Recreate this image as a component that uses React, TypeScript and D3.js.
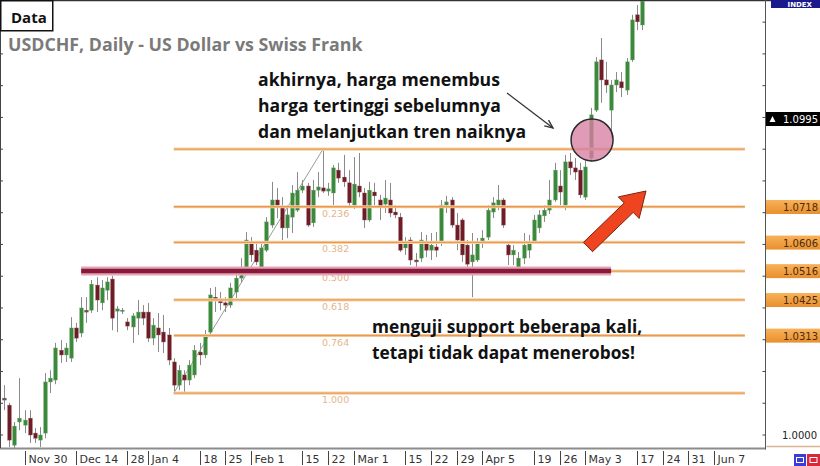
import React from 'react';
import * as d3 from 'd3';

const W = 820;
const H = 466;

// Daily candles [open, high, low, close]
const candles: [number, number, number, number][] = [
  [1.0116, 1.0157, 1.0078, 1.0110],
  [1.0094, 1.0101, 0.9962, 0.9984],
  [0.9968, 1.0041, 0.9952, 1.0028],
  [1.0041, 1.0179, 1.0015, 1.0053],
  [1.0031, 1.0078, 1.0006, 1.0047],
  [1.0053, 1.0078, 0.9975, 1.0000],
  [1.0006, 1.0022, 0.9975, 0.9990],
  [0.9984, 1.0025, 0.9962, 1.0000],
  [1.0006, 1.0195, 0.9990, 1.0167],
  [1.0167, 1.0204, 1.0132, 1.0179],
  [1.0173, 1.0290, 1.0160, 1.0274],
  [1.0267, 1.0299, 1.0227, 1.0252],
  [1.0252, 1.0290, 1.0230, 1.0274],
  [1.0242, 1.0371, 1.0230, 1.0337],
  [1.0337, 1.0353, 1.0293, 1.0305],
  [1.0321, 1.0434, 1.0308, 1.0400],
  [1.0393, 1.0434, 1.0353, 1.0387],
  [1.0393, 1.0488, 1.0384, 1.0475],
  [1.0472, 1.0497, 1.0387, 1.0425],
  [1.0416, 1.0488, 1.0393, 1.0463],
  [1.0456, 1.0497, 1.0425, 1.0482],
  [1.0491, 1.0501, 1.0330, 1.0368],
  [1.0390, 1.0406, 1.0324, 1.0397],
  [1.0390, 1.0400, 1.0381, 1.0393],
  [1.0356, 1.0368, 1.0330, 1.0343],
  [1.0340, 1.0384, 1.0290, 1.0375],
  [1.0368, 1.0425, 1.0315, 1.0387],
  [1.0387, 1.0409, 1.0346, 1.0368],
  [1.0387, 1.0416, 1.0293, 1.0305],
  [1.0305, 1.0368, 1.0283, 1.0346],
  [1.0337, 1.0384, 1.0261, 1.0315],
  [1.0324, 1.0378, 1.0258, 1.0293],
  [1.0315, 1.0337, 1.0220, 1.0236],
  [1.0230, 1.0242, 1.0132, 1.0157],
  [1.0157, 1.0220, 1.0141, 1.0204],
  [1.0189, 1.0204, 1.0135, 1.0173],
  [1.0173, 1.0236, 1.0157, 1.0220],
  [1.0189, 1.0283, 1.0179, 1.0267],
  [1.0261, 1.0290, 1.0220, 1.0252],
  [1.0252, 1.0330, 1.0242, 1.0315],
  [1.0324, 1.0463, 1.0315, 1.0441],
  [1.0434, 1.0466, 1.0387, 1.0425],
  [1.0425, 1.0450, 1.0393, 1.0416],
  [1.0416, 1.0434, 1.0387, 1.0409],
  [1.0409, 1.0479, 1.0400, 1.0463],
  [1.0450, 1.0513, 1.0431, 1.0494],
  [1.0494, 1.0557, 1.0482, 1.0519],
  [1.0526, 1.0639, 1.0513, 1.0614],
  [1.0608, 1.0623, 1.0545, 1.0567],
  [1.0582, 1.0608, 1.0535, 1.0545],
  [1.0526, 1.0605, 1.0510, 1.0589],
  [1.0582, 1.0686, 1.0576, 1.0671],
  [1.0661, 1.0797, 1.0652, 1.0740],
  [1.0740, 1.0778, 1.0683, 1.0724],
  [1.0718, 1.0749, 1.0614, 1.0652],
  [1.0652, 1.0724, 1.0620, 1.0693],
  [1.0686, 1.0787, 1.0636, 1.0762],
  [1.0708, 1.0828, 1.0702, 1.0771],
  [1.0771, 1.0803, 1.0762, 1.0784],
  [1.0784, 1.0794, 1.0655, 1.0661],
  [1.0668, 1.0803, 1.0655, 1.0771],
  [1.0771, 1.0828, 1.0749, 1.0781],
  [1.0778, 1.0900, 1.0762, 1.0768],
  [1.0768, 1.0794, 1.0753, 1.0775],
  [1.0762, 1.0850, 1.0724, 1.0841],
  [1.0834, 1.0857, 1.0794, 1.0809],
  [1.0812, 1.0882, 1.0781, 1.0797],
  [1.0794, 1.0834, 1.0718, 1.0731],
  [1.0724, 1.0875, 1.0712, 1.0790],
  [1.0784, 1.0888, 1.0749, 1.0765],
  [1.0762, 1.0778, 1.0652, 1.0677],
  [1.0677, 1.0797, 1.0671, 1.0771],
  [1.0765, 1.0794, 1.0724, 1.0753],
  [1.0740, 1.0756, 1.0677, 1.0721],
  [1.0727, 1.0803, 1.0699, 1.0746],
  [1.0740, 1.0794, 1.0686, 1.0699],
  [1.0702, 1.0724, 1.0683, 1.0693],
  [1.0686, 1.0699, 1.0576, 1.0582],
  [1.0589, 1.0623, 1.0567, 1.0605],
  [1.0614, 1.0623, 1.0535, 1.0551],
  [1.0551, 1.0573, 1.0526, 1.0545],
  [1.0557, 1.0639, 1.0545, 1.0614],
  [1.0608, 1.0630, 1.0560, 1.0582],
  [1.0582, 1.0636, 1.0551, 1.0598],
  [1.0592, 1.0639, 1.0560, 1.0582],
  [1.0605, 1.0740, 1.0595, 1.0724],
  [1.0724, 1.0753, 1.0699, 1.0734],
  [1.0740, 1.0749, 1.0652, 1.0661],
  [1.0661, 1.0699, 1.0582, 1.0614],
  [1.0677, 1.0683, 1.0545, 1.0567],
  [1.0598, 1.0614, 1.0526, 1.0538],
  [1.0545, 1.0636, 1.0434, 1.0567],
  [1.0551, 1.0620, 1.0545, 1.0605],
  [1.0605, 1.0645, 1.0589, 1.0620],
  [1.0623, 1.0724, 1.0614, 1.0708],
  [1.0702, 1.0749, 1.0683, 1.0731],
  [1.0724, 1.0787, 1.0708, 1.0740],
  [1.0740, 1.0746, 1.0652, 1.0661],
  [1.0598, 1.0608, 1.0535, 1.0567],
  [1.0567, 1.0598, 1.0535, 1.0582],
  [1.0526, 1.0576, 1.0513, 1.0557],
  [1.0557, 1.0636, 1.0538, 1.0598],
  [1.0582, 1.0630, 1.0557, 1.0605],
  [1.0608, 1.0693, 1.0605, 1.0677],
  [1.0652, 1.0708, 1.0636, 1.0693],
  [1.0690, 1.0724, 1.0671, 1.0708],
  [1.0708, 1.0803, 1.0696, 1.0740],
  [1.0740, 1.0857, 1.0734, 1.0834],
  [1.0784, 1.0834, 1.0724, 1.0765],
  [1.0724, 1.0882, 1.0708, 1.0860],
  [1.0860, 1.0888, 1.0819, 1.0841],
  [1.0841, 1.0872, 1.0803, 1.0828],
  [1.0834, 1.0857, 1.0746, 1.0756],
  [1.0749, 1.0866, 1.0740, 1.0844],
  [1.0872, 1.1030, 1.0860, 1.1008],
  [1.1023, 1.1190, 1.1017, 1.1175],
  [1.1181, 1.1250, 1.1046, 1.1118],
  [1.1118, 1.1175, 1.1077, 1.1102],
  [1.1023, 1.1118, 1.0935, 1.1102],
  [1.1102, 1.1143, 1.1080, 1.1118],
  [1.1112, 1.1143, 1.1064, 1.1093],
  [1.1086, 1.1187, 1.1071, 1.1175],
  [1.1181, 1.1323, 1.1175, 1.1307],
  [1.1323, 1.1354, 1.1275, 1.1301],
  [1.1291, 1.1400, 1.1275, 1.1365],
];

const dateLabels = ['Nov 30', 'Dec 14', '28', 'Jan 4', '18', '25', 'Feb 1', '15', '22', 'Mar 1', '15', '22', '29', 'Apr 5', '19', '26', 'May 3', '17', '24', '31', 'Jun 7'];
const dateBars = [4, 14, 24, 28, 38, 43, 48, 58, 63, 68, 78, 83, 88, 93, 103, 108, 113, 123, 128, 133, 138];

const fibLevels = [0, 0.236, 0.382, 0.5, 0.618, 0.764, 1];
const fibLabels = ['', '0.236', '0.382', '0.500', '0.618', '0.764', '1.000'];
const fibHigh = 1.09;
const fibLow = 1.0132;
const fibLowBar = 33;
const fibHighBar = 62;
const fibEndBar = 144;

const supportPrice = 1.0516;
const supportFromBar = 15;
const supportToBar = 118;

const levelLabels = [1.0718, 1.0606, 1.0516, 1.0425, 1.0313];
const currentPrice = 1.0995;
const floorPrice = 1.0;

const noteTop = ['akhirnya, harga menembus', 'harga tertinggi sebelumnya', 'dan melanjutkan tren naiknya'];
const noteBottom = ['menguji support beberapa kali,', 'tetapi tidak dapat menerobos!'];

export default function App() {
  const x = d3.scaleLinear().domain([0, 138]).range([4, 714]);
  const y = d3.scaleLinear().domain([1.0, 1.0995]).range([435, 119]);
  const plotRight = 765.5;
  const plotBottom = 448;
  const yTicks = d3.range(0.99, 1.145, 0.01);

  const fibY = (lvl: number) => y(fibHigh - (fibHigh - fibLow) * lvl);

  // red arrow
  const tail = [588, 247];
  const tip = [646, 191];
  const dx = tip[0] - tail[0];
  const dy = tip[1] - tail[1];
  const len = Math.hypot(dx, dy);
  const ux = dx / len, uy = dy / len;
  const nx = -uy, ny = ux;
  const sw = 6.5, hw = 15, hl = 24;
  const neck = [tip[0] - ux * hl, tip[1] - uy * hl];
  const arrowPts = [
    [tail[0] + nx * sw, tail[1] + ny * sw],
    [neck[0] + nx * sw, neck[1] + ny * sw],
    [neck[0] + nx * hw, neck[1] + ny * hw],
    tip,
    [neck[0] - nx * hw, neck[1] - ny * hw],
    [neck[0] - nx * sw, neck[1] - ny * sw],
    [tail[0] - nx * sw, tail[1] - ny * sw],
  ].map((p) => p.join(',')).join(' ');

  // thin pointer
  const pA = [507, 93];
  const pB = [553, 128];
  const pang = Math.atan2(pB[1] - pA[1], pB[0] - pA[0]);
  const ah = 9;
  const ah1 = [pB[0] - ah * Math.cos(pang - 0.4), pB[1] - ah * Math.sin(pang - 0.4)];
  const ah2 = [pB[0] - ah * Math.cos(pang + 0.4), pB[1] - ah * Math.sin(pang + 0.4)];

  const font = '"Open Sans", sans-serif';
  const axisFont = '"DejaVu Sans", sans-serif';

  return (
    <svg width={W} height={H} style={{ position: 'absolute', left: 0, top: 0, background: '#fff' }}>
      <defs>
        <clipPath id="plot">
          <rect x={0} y={1} width={plotRight} height={plotBottom - 1} />
        </clipPath>
        <linearGradient id="orangeBox" x1="0" x2="0" y1="0" y2="1">
          <stop offset="0" stopColor="#f7b25a" />
          <stop offset="1" stopColor="#e98f2c" />
        </linearGradient>
      </defs>
      <rect x={0} y={0} width={W} height={H} fill="#fff" />

      <g clipPath="url(#plot)">
        {/* fib diagonal */}
        <line x1={x(fibLowBar)} y1={y(fibLow)} x2={x(fibHighBar)} y2={y(fibHigh)} stroke="#9a9a9a" strokeWidth={1} />
        {/* candles */}
        {candles.map((c, i) => {
          const [o, h, l, cl] = c;
          const cx = Math.round(x(i)) + 0.5;
          const up = cl >= o;
          const top = y(Math.max(o, cl));
          const bot = y(Math.min(o, cl));
          const bh = Math.max(1.2, bot - top);
          return (
            <g key={i}>
              <line x1={cx} x2={cx} y1={y(h)} y2={y(l)} stroke="#8a8a8a" strokeWidth={1} />
              <rect x={cx - 1.8} y={top} width={3.6} height={bh} fill={bh < 2 ? '#555' : up ? '#3b8a3b' : '#6e1d26'} stroke={up ? '#6fa06f' : '#8d5058'} strokeWidth={0.4} />
            </g>
          );
        })}
        {/* fib levels */}
        {fibLevels.map((lvl, k) => (
          <g key={k}>
            <line x1={x(fibLowBar)} x2={x(fibEndBar)} y1={fibY(lvl)} y2={fibY(lvl)} stroke="#f6d3ad" strokeWidth={3.2} />
            <line x1={x(fibLowBar)} x2={x(fibEndBar)} y1={fibY(lvl)} y2={fibY(lvl)} stroke="#e99a4e" strokeWidth={1.4} />
            {fibLabels[k] && (
              <text x={x(fibHighBar) - 1} y={fibY(lvl) + 10} fontSize={9.5} fontFamily={axisFont} fill="#e5b58a">
                {fibLabels[k]}
              </text>
            )}
          </g>
        ))}
        {/* support */}
        <line x1={x(supportFromBar)} x2={x(supportToBar)} y1={y(supportPrice)} y2={y(supportPrice)} stroke="#e7a3b6" strokeWidth={9} />
        <line x1={x(supportFromBar)} x2={x(supportToBar)} y1={y(supportPrice)} y2={y(supportPrice)} stroke="#861a3a" strokeWidth={4.5} />
      </g>

      {/* frame */}
      <line x1={0} x2={W} y1={0.5} y2={0.5} stroke="#333" strokeWidth={1.5} />
      <line x1={0} x2={plotRight} y1={plotBottom + 0.5} y2={plotBottom + 0.5} stroke="#8c8c8c" strokeWidth={2} />
      <line x1={plotRight} x2={plotRight} y1={0} y2={plotBottom + 1.5} stroke="#555" strokeWidth={1} />
      <line x1={0.5} x2={0.5} y1={30} y2={plotBottom} stroke="#444" strokeWidth={1} />
      {yTicks.map((t, k) => {
        const ty = y(t);
        if (ty < 4 || ty > plotBottom - 2) return null;
        return (
          <g key={k}>
            <line x1={plotRight - 3} x2={plotRight} y1={ty} y2={ty} stroke="#444" />
            {ty > 32 && <line x1={0} x2={3} y1={ty} y2={ty} stroke="#444" />}
          </g>
        );
      })}

      {/* right axis labels */}
      <rect x={plotRight + 0.5} y={y(currentPrice) - 7} width={W - plotRight} height={14} fill="#000" />
      <path d={`M ${plotRight + 4} ${y(currentPrice) + 3} l 3 -6 l 3 6 z`} fill="#fff" />
      <text x={W - 2} y={y(currentPrice) + 4} textAnchor="end" fontSize={10} fontFamily={axisFont} fill="#fff">
        {currentPrice.toFixed(4)}
      </text>
      {levelLabels.map((v, k) => (
        <g key={k}>
          <rect x={plotRight + 0.5} y={y(v) - 7} width={W - plotRight} height={14} fill="url(#orangeBox)" />
          <text x={W - 2} y={y(v) + 4} textAnchor="end" fontSize={10} fontFamily={axisFont} fill="#4a2a10">
            {v.toFixed(4)}
          </text>
        </g>
      ))}
      <text x={W - 3} y={y(floorPrice) + 4} textAnchor="end" fontSize={10} fontFamily={axisFont} fill="#222">
        {floorPrice.toFixed(4)}
      </text>
      <line x1={plotRight + 1} x2={W} y1={446.5} y2={446.5} stroke="#d9b58f" strokeWidth={1.5} />
      <rect x={771} y={0} width={49} height={8} fill="#1a1a8c" />
      <text x={812} y={7} textAnchor="end" fontSize={7} fontFamily={axisFont} fontWeight="bold" fill="#fff">INDEX</text>
      <rect x={794} y={454} width={12} height={12} fill="#3b3bd8" />
      <rect x={796.5} y={457.5} width={7} height={5} fill="none" stroke="#fff" strokeWidth={1} />
      <rect x={807} y={454} width={13} height={12} fill="#d8283a" />
      <rect x={810} y={457.5} width={7} height={5} fill="none" stroke="#fff" strokeWidth={1} />

      {/* date axis */}
      {dateLabels.map((lab, k) => {
        const tx = Math.round(x(dateBars[k])) + 0.5;
        return (
          <g key={k}>
            <line x1={tx} x2={tx} y1={451} y2={465} stroke="#444" strokeWidth={1} />
            <text x={tx + 3} y={463} fontSize={11} fontFamily={axisFont} fill="#333">
              {lab}
            </text>
          </g>
        );
      })}

      {/* title */}
      <rect x={0.75} y={0.75} width={52} height={30} fill="#fff" stroke="#111" strokeWidth={1.5} />
      <text x={11} y={23} fontSize={15} fontWeight={700} fontFamily={font} fill="#111">Data</text>
      <text x={8} y={51} fontSize={17.8} fontWeight={700} fontFamily={font} fill="#7a7a7a">
        USDCHF, Daily - US Dollar vs Swiss Frank
      </text>

      {/* annotations */}
      {noteTop.map((t, k) => (
        <text key={k} x={258} y={86 + k * 26} fontSize={17.6} fontWeight={700} fontFamily={font} fill="#111">{t}</text>
      ))}
      {noteBottom.map((t, k) => (
        <text key={k} x={372} y={333 + k * 26} fontSize={17.3} fontWeight={700} fontFamily={font} fill="#111">{t}</text>
      ))}
      <line x1={pA[0]} y1={pA[1]} x2={pB[0]} y2={pB[1]} stroke="#333" strokeWidth={1.3} />
      <polyline points={`${ah1.join(',')} ${pB.join(',')} ${ah2.join(',')}`} fill="none" stroke="#333" strokeWidth={1.3} />
      <circle cx={x(114.3)} cy={y(1.0929)} r={21} fill="#d77fa3" fillOpacity={0.78} stroke="#2a2a2a" strokeWidth={1.5} />
      <polygon points={arrowPts} fill="#ee4420" stroke="#7a2510" strokeWidth={1} />
    </svg>
  );
}
